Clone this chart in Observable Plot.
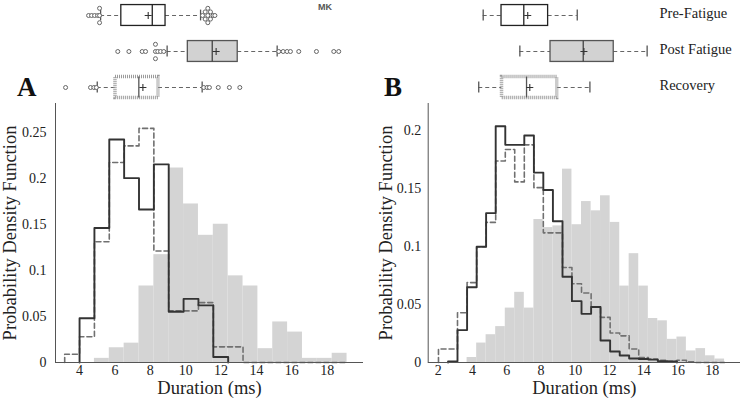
<!DOCTYPE html>
<html><head><meta charset="utf-8">
<script src="https://cdn.jsdelivr.net/npm/d3@7"></script>
<script src="https://cdn.jsdelivr.net/npm/@observablehq/plot@0.6"></script>
<style>
body{margin:0;background:#fff;}
#fig{position:relative;width:742px;height:404px;overflow:hidden;font-family:"Liberation Serif","Times New Roman",serif;background:#fff;}
#fig .abs{position:absolute;}
#fig svg{overflow:visible;}
#fig svg text{font-family:"Liberation Serif","Times New Roman",serif;}
.letter{font-weight:bold;font-size:27px;line-height:27px;color:#111;font-family:"Liberation Serif","Times New Roman",serif;}
.mk{font-family:"Liberation Sans",Arial,sans-serif;font-weight:bold;font-size:9px;line-height:9px;color:#555;}
</style></head><body><div id="fig"></div>
<script>
// ---------- data ----------
const groups = ["Pre-Fatigue", "Post Fatigue", "Recovery"];

const xTicksA = [4, 6, 8, 10, 12, 14, 16, 18];
const yTicksA = [0, 0.05, 0.1, 0.15, 0.2, 0.25];
const xTicksB = [2, 4, 6, 8, 10, 12, 14, 16, 18];
const yTicksB = [0, 0.05, 0.1, 0.15, 0.2];

// Panel A histogram (bin edges and densities)
const edgesA = [3.16, 4.00, 4.84, 5.68, 6.52, 7.36, 8.20, 9.04, 9.88, 10.72, 11.56, 12.40, 13.24, 14.08, 14.92, 15.76, 16.60, 17.44, 18.28, 19.12];
const preA  = [null, 0.048, 0.146, 0.242, 0.200, 0.166, 0.215, 0.055, 0.069, 0.062, 0.006, null, null, null, null, null, null, null, null];
const postA = [null, null, 0.0045, 0.016, 0.021, 0.083, 0.117, 0.211, 0.172, 0.138, 0.150, 0.094, 0.083, 0.015, 0.044, 0.033, 0.0045, 0.0045, 0.010];
const recA  = [0.009, 0.028, 0.131, 0.217, 0.235, 0.254, 0.121, 0.056, 0.056, 0.065, 0.017, 0.017, 0, 0, 0, 0, 0, 0, 0];

// Panel B histogram
const edgesB = [2.02, 2.58, 3.13, 3.69, 4.25, 4.80, 5.36, 5.92, 6.47, 7.03, 7.59, 8.14, 8.70, 9.26, 9.81, 10.37, 10.93, 11.48, 12.04, 12.60, 13.15, 13.71, 14.27, 14.82, 15.38, 15.94, 16.49, 17.05, 17.61, 18.16, 18.72];
const preB  = [null, 0.001, 0.028, 0.065, 0.100, 0.129, 0.204, 0.188, 0.188, 0.196, 0.164, 0.149, 0.122, 0.074, 0.053, 0.042, 0.048, 0.019, 0.0095, 0.006, 0.0035, 0.003, 0.0025, 0.0012, 0.0008, null, null, null, null, null];
const postB = [null, null, null, 0.0043, 0.0168, 0.024, 0.031, 0.047, 0.0606, 0.047, 0.1235, 0.1165, 0.118, 0.167, 0.119, 0.139, 0.131, 0.144, 0.121, 0.066, 0.094, 0.066, 0.038, 0.036, 0.020, 0.022, 0.010, 0.012, 0.0058, 0.003];
const recB  = [0.0116, 0.0116, 0.043, 0.069, 0.100, 0.121, 0.174, 0.184, 0.156, 0.188, 0.151, 0.112, 0.112, 0.082, 0.068, 0.060, 0.048, 0.039, 0.0255, 0.023, 0.0116, 0.0043, 0.003, 0.002, 0.001, 0.002, 0.0005, 0, 0, 0];

// Box plot statistics (order: Pre-Fatigue, Post Fatigue, Recovery)
const whiskLoA = [5.19, 8.95, 5.00];
const q1A      = [6.36, 10.12, 6.03];
const medianA  = [8.11, 11.50, 7.35];
const meanA    = [7.88, 11.72, 7.58];
const q3A      = [8.86, 12.94, 8.46];
const whiskHiA = [10.84, 15.17, 10.93];
const outPreA  = [4.51, 4.68, 4.85, 5.02, 5.13, 5.13, 5.13, 10.95, 11.10, 11.10, 11.25, 11.25, 11.25, 11.40, 11.40, 11.55, 11.65];
const outPostA = [6.16, 6.79, 7.54, 7.73, 8.29, 8.29, 8.29, 8.42, 8.58, 8.76, 15.26, 15.51, 15.73, 15.92, 16.39, 17.39, 18.37, 18.65];
const outRecA  = [3.21, 4.62, 4.81, 4.95, 11.02, 11.21, 11.34, 11.84, 12.47, 13.06];

const whiskLoB = [4.63, 6.77, 4.37];
const q1B      = [5.70, 8.56, 5.73];
const medianB  = [7.00, 10.47, 7.16];
const meanB    = [7.23, 10.51, 7.35];
const q3B      = [8.42, 12.25, 8.95];
const whiskHiB = [10.12, 14.20, 10.86];

// ---------- helpers ----------
function bars(edges, vals) {
  const out = [];
  vals.forEach((v, i) => { if (v != null) out.push({x1: edges[i], x2: edges[i + 1], y: v}); });
  return out;
}
function steps(edges, vals) {
  const first = vals.findIndex(v => v != null);
  let last = vals.length - 1;
  while (vals[last] == null) last--;
  const pts = [{x: edges[first], y: 0}];
  for (let i = first; i <= last; i++) pts.push({x: edges[i], y: vals[i]});
  pts.push({x: edges[last + 1], y: vals[last]});
  pts.push({x: edges[last + 1], y: 0});
  return pts;
}
function stats(lo, q1, med, mean, q3, hi) {
  return groups.map((g, i) => ({group: g, row: i, lo: lo[i], q1: q1[i], med: med[i], mean: mean[i], q3: q3[i], hi: hi[i]}));
}
function outliers(lists) {
  const pts = [];
  lists.forEach((list, row) => {
    const counts = d3.rollup(list, v => v.length, d => d);
    const seen = new Map();
    list.forEach(v => {
      const n = counts.get(v), k = seen.get(v) || 0;
      seen.set(v, k + 1);
      pts.push({v, y: row + (k - (n - 1) / 2) * 0.2});
    });
  });
  return pts;
}

const serif = "Liberation Serif";
const W = 371;

function histPlot(o) {
  return Plot.plot({
    width: W, height: 304,
    marginTop: 3, marginBottom: 42, marginLeft: o.ml, marginRight: o.mr,
    style: {"font-family": serif, "font-size": "14px", color: "#222", background: "transparent", overflow: "visible"},
    x: {domain: o.xDomain, ticks: o.xTicks, tickSize: 0, tickPadding: 3, label: null, tickFormat: d3.format("~g")},
    y: {domain: o.yDomain, ticks: o.yTicks, tickSize: 0, tickPadding: o.yPad, label: null, tickFormat: d3.format("~g")},
    marks: [
      Plot.rect(bars(o.edges, o.post), {x1: "x1", x2: "x2", y1: 0, y2: "y", fill: "#d4d4d4"}),
      Plot.line(steps(o.edges, o.rec), {x: "x", y: "y", curve: "step-after", stroke: "#707070", strokeWidth: 1.6, strokeDasharray: "5,3"}),
      Plot.line(steps(o.edges, o.pre), {x: "x", y: "y", curve: "step-after", stroke: "#333", strokeWidth: 1.9}),
      Plot.ruleY([0], {stroke: "#555"}),
      Plot.ruleX([o.xDomain[0]], {stroke: "#555"}),
      Plot.text(["Duration (ms)"], {text: d => d, frameAnchor: "bottom", textAnchor: "middle", dy: 31, fontSize: 18.5, fill: "#222"}),
      Plot.text(["Probability Density Function"], {text: d => d, frameAnchor: "left", textAnchor: "middle", rotate: -90, dx: o.ylx, fontSize: 18.5, fill: "#222"})
    ]
  });
}

function boxPlot(o) {
  const s = o.stats;
  const boxStyles = [
    {fill: "white", stroke: "#222", strokeWidth: 1.3},
    {fill: "#d2d2d2", stroke: "#555", strokeWidth: 1.3},
    {fill: "white", stroke: "#9a9a9a", strokeWidth: 3.5, strokeDasharray: "1,1"}
  ];
  const medStroke = ["#222", "#444", "#555"];
  const marks = [
    Plot.ruleY(s, {y: "row", x1: "lo", x2: "q1", stroke: "#666", strokeWidth: 1.2, strokeDasharray: "4,3"}),
    Plot.ruleY(s, {y: "row", x1: "q3", x2: "hi", stroke: "#666", strokeWidth: 1.2, strokeDasharray: "4,3"}),
    Plot.ruleX(s, {x: "lo", y1: d => d.row - 0.15, y2: d => d.row + 0.15, stroke: "#555", strokeWidth: 1.3}),
    Plot.ruleX(s, {x: "hi", y1: d => d.row - 0.15, y2: d => d.row + 0.15, stroke: "#555", strokeWidth: 1.3}),
    ...boxStyles.map((st, i) => Plot.rect(s.filter(d => d.row === i), {x1: "q1", x2: "q3", y1: d => d.row - 0.29, y2: d => d.row + 0.29, ...st})),
    ...medStroke.map((c, i) => Plot.ruleX(s.filter(d => d.row === i), {x: "med", y1: d => d.row - 0.29, y2: d => d.row + 0.29, stroke: c, strokeWidth: 1.3})),
    Plot.dot(s, {x: "mean", y: "row", symbol: "plus", r: 2.4, stroke: "#333", strokeWidth: 1.1})
  ];
  if (o.outliers) marks.push(Plot.dot(o.outliers, {x: "v", y: "y", r: 2, stroke: "#666", fill: "white", strokeWidth: 1}));
  if (o.labels) marks.push(Plot.text(s, {y: "row", text: "group", frameAnchor: "right", textAnchor: "start", dx: -81, dy: -2, fontSize: 14.5, fill: "#222"}));
  return Plot.plot({
    width: W, height: 100, marginTop: 0, marginBottom: 0, marginLeft: o.ml, marginRight: o.mr,
    style: {"font-family": serif, background: "transparent", overflow: "visible"},
    x: {domain: o.xDomain, axis: null},
    y: {domain: [-0.4167, 2.3611], reverse: true, axis: null},
    marks
  });
}

// ---------- layout ----------
const fig = document.getElementById("fig");
function place(node, left, top) {
  node.classList.add("abs");
  node.style.left = left + "px";
  node.style.top = top + "px";
  fig.appendChild(node);
}

const xDomA = [2.64, 20.05], yDomA = [0, 0.281];
const xDomB = [1.42, 19.65], yDomB = [0, 0.2237];

place(boxPlot({stats: stats(whiskLoA, q1A, medianA, meanA, q3A, whiskHiA), outliers: outliers([outPreA, outPostA, outRecA]), xDomain: xDomA, ml: 55, mr: 8}), 0, 0);
place(histPlot({edges: edgesA, pre: preA, post: postA, rec: recA, xDomain: xDomA, yDomain: yDomA, xTicks: xTicksA, yTicks: yTicksA, ml: 55, mr: 8, yPad: 9, ylx: -45}), 0, 100);

place(boxPlot({stats: stats(whiskLoB, q1B, medianB, meanB, q3B, whiskHiB), labels: true, xDomain: xDomB, ml: 56.7, mr: 2}), 371, 0);
place(histPlot({edges: edgesB, pre: preB, post: postB, rec: recB, xDomain: xDomB, yDomain: yDomB, xTicks: xTicksB, yTicks: yTicksB, ml: 56.7, mr: 2, yPad: 7, ylx: -42}), 371, 100);

function label(text, cls, left, top) {
  const d = document.createElement("div");
  d.textContent = text;
  d.className = cls;
  place(d, left, top);
}
label("A", "letter", 17, 74);
label("B", "letter", 384, 74);
label("MK", "mk", 318, 3);
</script></body></html>
